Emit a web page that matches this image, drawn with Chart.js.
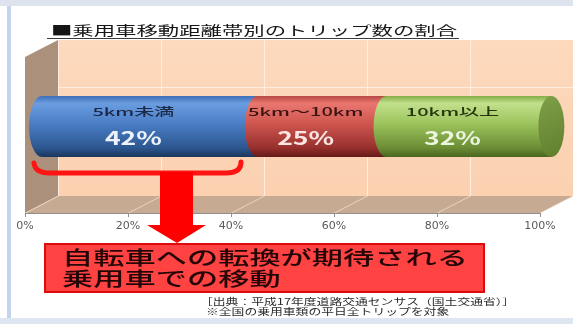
<!DOCTYPE html>
<html>
<head>
<meta charset="utf-8">
<style>
  html, body { margin: 0; padding: 0; background: #ffffff; }
  #wrap { width: 573px; height: 324px; position: relative; }
  canvas { display: block; }
</style>
<script src="https://cdn.jsdelivr.net/npm/chart.js@4"></script>
</head>
<body>
<div id="wrap"><canvas id="c" width="573" height="324"></canvas></div>
<script>
// Trip share by passenger-car travel distance band
const categories = ['5km未満', '5km～10km', '10km以上'];
const shares = [42, 25, 32];
const tickLabels = ['0%', '20%', '40%', '60%', '80%', '100%'];

const titleText = '■乗用車移動距離帯別のトリップ数の割合';
const calloutLines = ['自転車への転換が期待される', '乗用車での移動'];
const sourceLines = ['［出典：平成17年度道路交通センサス（国土交通省）］', '※全国の乗用車類の平日全トリップを対象'];

// cylinder shading per band: [top edge, highlight, body, shadow, bottom edge]
const bandShades = [
  ['#3d6fb8', '#6b9ce0', '#4a7ec6', '#2c5790', '#1b365c'],
  ['#b84844', '#e9776f', '#cf5650', '#97302d', '#651a18'],
  ['#86ad47', '#c2e08c', '#9cc45c', '#6c8d35', '#4a6620']
];
const capShade = ['#7f9f48', '#5f7f2e'];
const nameColors = ['#1b2946', '#3a1412', '#28360f'];
const pctColors = ['#eef3fb', '#fbe6e4', '#ecf5de'];

const DEPTH_X = 33, DEPTH_Y = -17;

// text squeezed/stretched horizontally to a given scale
function drawScaled(ctx, text, x, y, sx, font, color, align) {
  ctx.save();
  ctx.font = font;
  ctx.translate(x, y);
  ctx.scale(sx, 1);
  ctx.textAlign = align || 'left';
  ctx.textBaseline = 'middle';
  ctx.fillStyle = color;
  ctx.fillText(text, 0, 0);
  ctx.restore();
}
function scaleFor(ctx, text, font, width) {
  ctx.save();
  ctx.font = font;
  const w = ctx.measureText(text).width;
  ctx.restore();
  return width / w;
}

const sceneryPlugin = {
  id: 'scenery',
  beforeDraw(chart) {
    const ctx = chart.ctx;
    const a = chart.chartArea;
    const xs = chart.scales.x;
    ctx.save();
    // page frame
    ctx.fillStyle = '#dde4ee';
    ctx.fillRect(0, 0, chart.width, 6);
    ctx.fillStyle = '#dde6f1';
    ctx.fillRect(0, 318, chart.width, 6);
    ctx.fillStyle = '#c3d5ee';
    ctx.fillRect(7, 6, 4, 312);

    // back wall
    const bl = a.left + DEPTH_X, bt = a.top + DEPTH_Y, bb = a.bottom + DEPTH_Y, br = a.right + DEPTH_X;
    const wall = ctx.createLinearGradient(0, bt, 0, bb);
    wall.addColorStop(0, '#fdd9bd');
    wall.addColorStop(1, '#fbd1b0');
    ctx.fillStyle = wall;
    ctx.fillRect(bl, bt, br - bl, bb - bt);

    // side wall
    ctx.fillStyle = '#ab917c';
    ctx.beginPath();
    ctx.moveTo(a.left, a.top);
    ctx.lineTo(bl, bt);
    ctx.lineTo(bl, bb);
    ctx.lineTo(a.left, a.bottom);
    ctx.closePath();
    ctx.fill();

    // floor
    ctx.fillStyle = '#c6aa91';
    ctx.beginPath();
    ctx.moveTo(a.left, a.bottom);
    ctx.lineTo(bl, bb);
    ctx.lineTo(br, bb);
    ctx.lineTo(a.right, a.bottom);
    ctx.closePath();
    ctx.fill();

    // grid on wall and floor
    ctx.lineWidth = 1;
    ctx.strokeStyle = 'rgba(255,240,228,0.9)';
    ctx.beginPath();
    ctx.moveTo(bl, bt + 47.5);
    ctx.lineTo(br, bt + 47.5);
    ctx.stroke();
    xs.ticks.forEach((t, i) => {
      const px = Math.round(xs.getPixelForTick(i)) + 0.5;
      ctx.strokeStyle = 'rgba(255,240,228,0.9)';
      ctx.beginPath();
      ctx.moveTo(px + DEPTH_X, bt);
      ctx.lineTo(px + DEPTH_X, bb);
      ctx.stroke();
      ctx.strokeStyle = 'rgba(240,225,210,0.8)';
      ctx.beginPath();
      ctx.moveTo(px + DEPTH_X, bb);
      ctx.lineTo(px, a.bottom);
      ctx.stroke();
    });
    ctx.restore();
  },
  afterDatasetsDraw(chart) {
    const ctx = chart.ctx;
    const ox = DEPTH_X / 2, oy = DEPTH_Y / 2;
    const n = chart.data.datasets.length;
    let nameSx = null, pctSx = null;
    const nameFont = '500 11px "Noto Sans CJK JP"';
    const pctFont = 'bold 19px "Noto Sans CJK JP"';
    for (let i = 0; i < n; i++) {
      const el = chart.getDatasetMeta(i).data[0];
      const p = el.getProps(['x', 'y', 'base', 'height'], true);
      const x0 = p.base + ox, x1 = p.x + ox, cy = p.y + oy, h = p.height / 2;
      const rx = 13;
      const sh = bandShades[i];
      const g = ctx.createLinearGradient(0, cy - h, 0, cy + h);
      g.addColorStop(0, sh[0]);
      g.addColorStop(0.12, sh[1]);
      g.addColorStop(0.45, sh[2]);
      g.addColorStop(0.85, sh[3]);
      g.addColorStop(1, sh[4]);
      ctx.save();
      ctx.fillStyle = g;
      ctx.beginPath();
      ctx.ellipse(x0, cy, rx, h, 0, Math.PI / 2, Math.PI * 3 / 2);
      ctx.lineTo(x1, cy - h);
      ctx.lineTo(x1, cy + h);
      ctx.closePath();
      ctx.fill();
      if (i === n - 1) {
        const cg = ctx.createLinearGradient(x1 - rx, cy - h, x1 + rx, cy + h);
        cg.addColorStop(0, capShade[0]);
        cg.addColorStop(1, capShade[1]);
        ctx.fillStyle = cg;
        ctx.beginPath();
        ctx.ellipse(x1, cy, rx, h, 0, 0, Math.PI * 2);
        ctx.fill();
      }
      ctx.restore();
    }
    // band names and shares
    for (let i = 0; i < n; i++) {
      const el = chart.getDatasetMeta(i).data[0];
      const p = el.getProps(['x', 'y', 'base', 'height'], true);
      const cx = (p.base + p.x) / 2;
      const cy = p.y + oy;
      const name = chart.data.datasets[i].label;
      const pct = chart.data.datasets[i].data[0] + '%';
      if (nameSx === null) nameSx = scaleFor(ctx, name, nameFont, 82);
      if (pctSx === null) pctSx = scaleFor(ctx, pct, pctFont, 57);
      drawScaled(ctx, name, cx, cy - 15, nameSx, nameFont, nameColors[i], 'center');
      drawScaled(ctx, pct, cx, cy + 11, pctSx, pctFont, pctColors[i], 'center');
    }
  },
  afterDraw(chart) {
    const ctx = chart.ctx;
    ctx.save();
    // title
    const tFont = '13px "Noto Sans CJK JP"';
    const tSx = scaleFor(ctx, titleText, tFont, 406);
    drawScaled(ctx, titleText, 51, 30, tSx, tFont, '#161616', 'left');
    ctx.fillStyle = '#3a3a3a';
    ctx.fillRect(47, 38, 412, 1);

    // bracket under the short-distance band
    ctx.strokeStyle = '#ff1414';
    ctx.lineWidth = 5;
    ctx.lineCap = 'round';
    ctx.beginPath();
    ctx.moveTo(34, 163);
    ctx.quadraticCurveTo(35, 173, 50, 173);
    ctx.lineTo(226, 173);
    ctx.quadraticCurveTo(241, 173, 241, 162);
    ctx.stroke();

    // arrow
    ctx.fillStyle = '#ff0000';
    ctx.fillRect(160, 172, 33, 54);
    ctx.beginPath();
    ctx.moveTo(147, 225);
    ctx.lineTo(206, 225);
    ctx.lineTo(177, 243);
    ctx.closePath();
    ctx.fill();

    // callout box
    ctx.fillStyle = '#ff4343';
    ctx.fillRect(44, 243, 441, 50);
    ctx.strokeStyle = '#e00a0a';
    ctx.lineWidth = 2;
    ctx.strokeRect(45, 244, 439, 48);
    const cFont = '500 19px "Noto Sans CJK JP"';
    const cSx = scaleFor(ctx, calloutLines[0], cFont, 406);
    drawScaled(ctx, calloutLines[0], 62, 258, cSx, cFont, '#240606', 'left');
    drawScaled(ctx, calloutLines[1], 62, 279, cSx, cFont, '#240606', 'left');

    // source note
    const sFont = '9px "Noto Sans CJK JP"';
    const sSx = scaleFor(ctx, sourceLines[0], sFont, 315);
    drawScaled(ctx, sourceLines[0], 200, 302, sSx, sFont, '#2a2a2a', 'left');
    drawScaled(ctx, sourceLines[1], 206, 312, sSx, sFont, '#2a2a2a', 'left');
    ctx.restore();
  }
};

const chart = new Chart(document.getElementById('c'), {
  type: 'bar',
  data: {
    labels: [''],
    datasets: categories.map((name, i) => ({
      label: name,
      data: [shares[i]],
      backgroundColor: 'rgba(0,0,0,0)',
      borderWidth: 0,
      barThickness: 61
    }))
  },
  options: {
    indexAxis: 'y',
    responsive: false,
    animation: false,
    devicePixelRatio: 1,
    layout: { padding: { left: 25, right: 33, top: 57, bottom: 0 } },
    plugins: {
      legend: { display: false },
      tooltip: { enabled: false },
      title: { display: false }
    },
    scales: {
      x: {
        type: 'linear',
        stacked: true,
        min: 0,
        max: 100,
        afterFit(scale) { scale.height = 111; },
        ticks: {
          stepSize: 20,
          padding: 3,
          color: '#5a5a5a',
          font: { family: 'DejaVu Sans', size: 11 },
          maxRotation: 0,
          callback: (v, i) => tickLabels[i]
        },
        grid: {
          drawOnChartArea: false,
          drawTicks: true,
          tickLength: 4,
          color: '#8f8f8f'
        },
        border: { display: true, color: '#8f8f8f', width: 1 }
      },
      y: {
        type: 'category',
        stacked: true,
        display: false
      }
    }
  },
  plugins: [sceneryPlugin]
});
</script>
</body>
</html>
